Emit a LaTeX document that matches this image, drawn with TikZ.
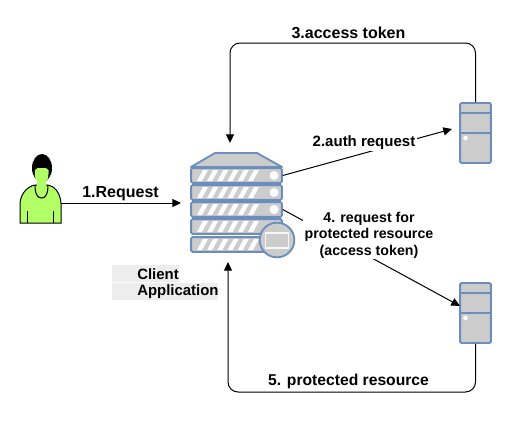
\documentclass[tikz,border=0pt]{standalone}
\usepackage{fontspec}
\setmainfont{Liberation Sans}
\usepackage{tikz}
\usetikzlibrary{arrows.meta, positioning, calc}
\definecolor{srvline}{HTML}{6C8EBF}
\definecolor{srvfill}{HTML}{CCCCCC}
\definecolor{userfill}{HTML}{B3FF66}
\definecolor{capfill}{HTML}{EDEDED}
\tikzset{
  srvrow/.style={draw=srvline, fill=srvfill, line width=1.4pt, rounded corners=1pt,
                 minimum width=68pt, minimum height=11pt, inner sep=0pt},
  srvbox/.style={draw=srvline, fill=srvfill, line width=1.4pt, rounded corners=1pt,
                 minimum width=23pt, minimum height=45pt, inner sep=0pt},
  flow/.style={-{Triangle[length=6.5pt,width=6pt]}, line width=0.75pt, rounded corners=7.5pt},
  lbl/.style={font=\fontsize{12}{14}\selectfont\bfseries, inner sep=1pt, align=center},
  caprow/.style={fill=capfill, minimum height=12.75pt, inner sep=0pt, anchor=west}
}
\begin{document}
\begin{tikzpicture}[x=0.75pt, y=-0.75pt]
  \useasboundingbox (0,0) rectangle (512,422);
  % user
  \node[inner sep=0pt, minimum width=30.75pt, minimum height=28.5pt] (user) at (40.5,204) {};
  \fill[black] (42,168) ellipse[x radius=7.5pt, y radius=10.5pt];
  \draw[fill=userfill, line width=0.75pt] (20,223) -- (20,203) .. controls (21,192) and (29,186) .. (35,185)
    -- (48,185) .. controls (54,186) and (60,192) .. (61,203) -- (61,223) -- cycle;
  \fill[userfill] (37,186) -- (37,181) .. controls (34,178) and (35,172) .. (35,170)
    .. controls (36,168) and (38,168) .. (41,168) .. controls (45,168) and (48,168) .. (48.5,170)
    .. controls (48.5,174) and (49,179) .. (46,181) -- (46,186) -- cycle;
  \draw[line width=0.75pt] (35,185) .. controls (35,195) and (38,198) .. (41.5,198)
    .. controls (45,198) and (48,195) .. (48,185);
  \draw[line width=0.75pt] (27,223) -- (27,211) (53.5,223) -- (53.5,211);
  % client application
  \draw[srvline, fill=srvfill, line width=1.4pt, line join=round] (191,167) -- (215,153) -- (257,153) -- (282,167) -- cycle;
  \foreach \i/\y in {1/175.5, 2/192.5, 3/209.5, 4/226.5, 5/244.5} {
    \node[srvrow] (row\i) at (236.5,\y) {};
    \foreach \x in {0,...,5}
      \fill[white] ({197+\x*10.2},\y+5.5) -- ({202+\x*10.2},\y+5.5) -- ({208+\x*10.2},\y-5.5) -- ({203+\x*10.2},\y-5.5) -- cycle;
  }
  \foreach \y in {175.5, 192.5, 209.5}
    \fill[white!92!srvfill] (274,\y) circle[radius=3.4pt];
  \node[circle, draw=srvline, fill=srvfill, line width=1.4pt, minimum size=26pt, inner sep=0pt] (badge) at (277,240) {};
  \node[draw=white!85!srvfill, fill=srvfill, line width=1.2pt, minimum width=17pt, minimum height=11pt, inner sep=0pt] (screen) at (277,240.5) {};
  \node[caprow, minimum width=50pt] (cap1) at (112,273.5) {};
  \node[caprow, minimum width=79.5pt] (cap2) at (112,291.5) {};
  \node[lbl, anchor=west, inner sep=0pt, font=\fontsize{11.2}{13}\selectfont\bfseries] at (137,274) {Client};
  \node[lbl, anchor=west, inner sep=0pt, font=\fontsize{11.2}{13}\selectfont\bfseries] at (137,292) {Application};
  % servers
  \node[srvbox] (authsrv) at (475.5,133) {};
  \draw[srvline, line width=1.4pt] (authsrv.west |- 0,113) -- (authsrv.east |- 0,113)
    (authsrv.west |- 0,133) -- (authsrv.east |- 0,133);
  \fill[white] (465.5,138) circle[radius=1.7pt];
  \node[srvbox] (ressrv) at (475.5,313) {};
  \draw[srvline, line width=1.4pt] (ressrv.west |- 0,293) -- (ressrv.east |- 0,293)
    (ressrv.west |- 0,313) -- (ressrv.east |- 0,313);
  \fill[white] (465.5,318) circle[radius=1.7pt];
  % connectors
  \coordinate (tokenend) at (230,143);
  \coordinate (authend) at (452,129);
  \coordinate (reqend) at (460,306);
  \coordinate (resend) at (228,262);
  \coordinate (inend) at (181,203);
  \draw[flow] (user.east |- inend) -- (inend);
  \draw[flow] (authsrv.north) |- (300,43) -| (tokenend);
  \draw[flow] (row1.east) -- (authend);
  \draw[flow] (row3.east) -- (reqend);
  \draw[flow] (ressrv.south) |- (300,392) -| (resend);
  % labels
  \node[lbl] (l1) at (120.5,193.5) {1.Request};
  \node[lbl, fill=white, font=\fontsize{11.25}{13}\selectfont\bfseries] (l2) at (364,143) {2.auth request};
  \node[lbl] (l3) at (348.5,33) {3.access token};
  \node[lbl, fill=white, font=\fontsize{10.65}{12.4}\selectfont\bfseries] (l4) at (369,235) {4. request for\\protected resource\\(access token)};
  \node[lbl, font=\fontsize{11.75}{14}\selectfont\bfseries] (l5) at (348.5,381) {5. protected resource};
\end{tikzpicture}
\end{document}
